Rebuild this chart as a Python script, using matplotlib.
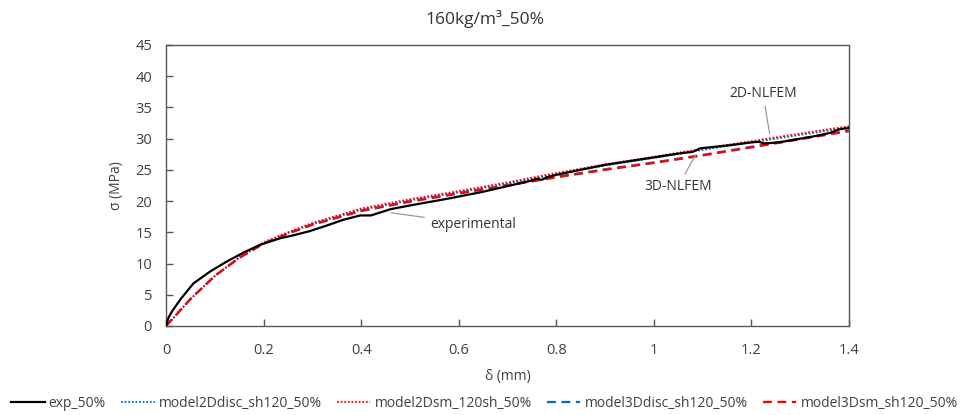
import matplotlib
matplotlib.use("Agg")
import matplotlib.pyplot as plt

plt.rcParams['font.family'] = ['Open Sans', 'DejaVu Sans']

# Experimental curve
exp_x = [0, 0.005, 0.012, 0.03, 0.056, 0.09, 0.124, 0.16, 0.193, 0.234, 0.26,
         0.295, 0.33, 0.363, 0.398, 0.42, 0.44, 0.46, 0.5, 0.55, 0.582, 0.65,
         0.7, 0.75, 0.76, 0.77, 0.78, 0.8, 0.849, 0.9, 0.95, 1.0, 1.05, 1.08,
         1.095, 1.15, 1.2, 1.215, 1.225, 1.24, 1.26, 1.3, 1.33, 1.36, 1.38, 1.4]
exp_y = [0, 1.3, 2.3, 4.3, 6.8, 8.7, 10.3, 11.8, 13.0, 14.05, 14.5,
         15.2, 16.1, 17.0, 17.7, 17.7, 18.2, 18.7, 19.3, 20.0, 20.45, 21.5,
         22.4, 23.3, 23.6, 23.4, 23.8, 24.2, 25.0, 25.8, 26.4, 27.0, 27.6, 27.9,
         28.45, 28.9, 29.4, 29.5, 29.25, 29.3, 29.45, 30.0, 30.4, 30.9, 31.5, 31.7]

# Model curves
model_x = [0, 0.02, 0.05, 0.1, 0.15, 0.2, 0.25, 0.3, 0.4, 0.5, 0.6, 0.7,
           0.8, 0.9, 1.0, 1.1, 1.2, 1.3, 1.4]
m2d_sm_y = [0, 1.7, 4.3, 8.0, 11.0, 13.4, 15.0, 16.5, 18.8, 20.3, 21.6, 23.0,
            24.5, 25.9, 27.1, 28.4, 29.6, 30.8, 32.0]
m2d_disc_y = [0, 1.7, 4.3, 8.0, 10.9, 13.3, 14.9, 16.3, 18.6, 20.1, 21.4, 22.8,
              24.3, 25.7, 26.9, 28.2, 29.4, 30.6, 31.8]
m3d_sm_y = [0, 1.7, 4.3, 8.0, 10.9, 13.2, 14.8, 16.2, 18.4, 19.9, 21.2, 22.5,
            23.8, 25.0, 26.1, 27.3, 28.6, 29.9, 31.2]
m3d_disc_y = [0, 1.7, 4.3, 8.0, 10.9, 13.2, 14.8, 16.3, 18.5, 20.0, 21.3, 22.6,
              23.9, 25.1, 26.2, 27.4, 28.7, 30.0, 31.3]

labels = ["exp_50%", "model2Ddisc_sh120_50%", "model2Dsm_120sh_50%",
          "model3Ddisc_sh120_50%", "model3Dsm_sh120_50%"]

x_ticks = [0, 0.2, 0.4, 0.6, 0.8, 1.0, 1.2, 1.4]
x_tick_labels = ["0", "0.2", "0.4", "0.6", "0.8", "1", "1.2", "1.4"]
y_ticks = [0, 5, 10, 15, 20, 25, 30, 35, 40, 45]

text_col = "#404040"
tick_col = "#595959"

fig = plt.figure(figsize=(9.69, 4.15), dpi=100)
ax = fig.add_axes([0.1713, 0.2145, 0.7049, 0.6771])

blue = "#0070C0"
red = "#FF0000"
ax.plot(exp_x, exp_y, color="black", lw=1.6, label=labels[0], zorder=5)
ax.plot(model_x, m2d_disc_y, color=blue, lw=1.3, ls=(0, (1, 1)), label=labels[1])
ax.plot(model_x, m2d_sm_y, color=red, lw=1.3, ls=(0, (1, 1)), label=labels[2])
ax.plot(model_x, m3d_disc_y, color=blue, lw=1.6, ls=(0, (4, 2.5)), label=labels[3])
ax.plot(model_x, m3d_sm_y, color=red, lw=1.6, ls=(0, (4, 2.5)), label=labels[4])

ax.set_xlim(0, 1.4)
ax.set_ylim(0, 45)
ax.set_xticks(x_ticks)
ax.set_xticklabels(x_tick_labels)
ax.set_yticks(y_ticks)
ax.tick_params(direction="in", length=5, width=1, colors=tick_col,
               labelcolor=text_col, labelsize=10.5, pad=10)
ax.tick_params(axis="x", pad=12)
for sp in ax.spines.values():
    sp.set_color("#595959")
    sp.set_linewidth(1.0)

ax.set_xlabel("δ (mm)", fontsize=10, color=text_col, labelpad=8)
ax.set_ylabel("σ (MPa)", fontsize=10, color=text_col, labelpad=8)
fig.suptitle("160kg/m³_50%", x=0.5, y=0.975, fontsize=12.5, color="#333333")

ann_kw = dict(fontsize=10, color="#333333",
              arrowprops=dict(arrowstyle="-", color="#999999", lw=0.9))
ax.annotate("2D-NLFEM", xy=(1.238, 30.4), xytext=(1.2236, 37.3),
            ha="center", va="center", **ann_kw)
ax.annotate("3D-NLFEM", xy=(1.088, 27.75), xytext=(1.049, 22.3),
            ha="center", va="center", **ann_kw)
ax.annotate("experimental", xy=(0.4556, 18.2), xytext=(0.541, 16.3),
            ha="left", va="center", **ann_kw)

fig.legend(loc="center", bbox_to_anchor=(0.5, 0.027), ncol=5, frameon=False,
           fontsize=10, handlelength=2.4, columnspacing=1.1, handletextpad=0.3,
           labelcolor=text_col)

fig.savefig("out.png", dpi=100)
